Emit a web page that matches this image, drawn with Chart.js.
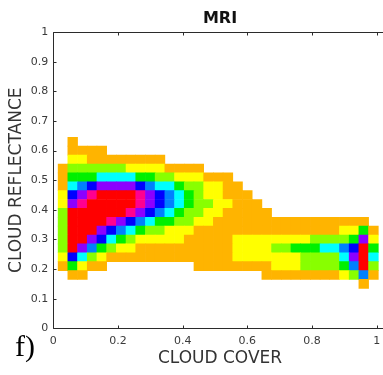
<!DOCTYPE html>
<html>
<head>
<meta charset="utf-8">
<script src="https://cdn.jsdelivr.net/npm/chart.js@4/dist/chart.umd.min.js"></script>
<style>
  html, body { margin: 0; padding: 0; background: #fff; overflow: hidden; }
  canvas { display: block; }
</style>
</head>
<body>
<!-- the axes box runs slightly past the right edge of the window -->
<canvas id="c" width="387" height="375"></canvas>
<script>
// Cloud cover bin centres (x) and cloud reflectance bin centres (y, top row first)
const coverBins = [0.03,0.06,0.09,0.12,0.15,0.18,0.21,0.24,0.27,0.30,
                   0.33,0.36,0.39,0.42,0.45,0.48,0.51,0.54,0.57,0.60,
                   0.63,0.66,0.69,0.72,0.75,0.78,0.81,0.84,0.87,0.90,
                   0.93,0.96,0.99];
const reflBins = [0.63,0.60,0.57,0.54,0.51,0.48,0.45,0.42,0.39,0.36,0.33,0.30,0.27,0.24,0.21,0.18,0.15];

// Joint-histogram frequency level per bin (0 = empty), one row per reflectance bin
const r063 = [0,1,0,0,0,0,0,0,0,0, 0,0,0,0,0,0,0,0,0,0, 0,0,0,0,0,0,0,0,0,0, 0,0,0];
const r060 = [0,1,1,1,1,0,0,0,0,0, 0,0,0,0,0,0,0,0,0,0, 0,0,0,0,0,0,0,0,0,0, 0,0,0];
const r057 = [0,2,2,1,1,1,1,1,1,1, 1,0,0,0,0,0,0,0,0,0, 0,0,0,0,0,0,0,0,0,0, 0,0,0];
const r054 = [1,3,3,3,3,3,3,2,2,2, 2,1,1,1,1,0,0,0,0,0, 0,0,0,0,0,0,0,0,0,0, 0,0,0];
const r051 = [1,4,4,4,5,5,5,5,4,4, 3,3,2,2,2,1,1,1,0,0, 0,0,0,0,0,0,0,0,0,0, 0,0,0];
const r048 = [1,5,6,7,8,8,8,8,7,6, 5,5,4,3,3,2,2,1,1,0, 0,0,0,0,0,0,0,0,0,0, 0,0,0];
const r045 = [2,7,8,9,10,10,10,10,9,8, 7,6,5,4,3,2,2,1,1,1, 0,0,0,0,0,0,0,0,0,0, 0,0,0];
const r042 = [2,8,9,10,10,10,10,10,9,8, 7,6,5,4,3,3,2,2,1,1, 1,0,0,0,0,0,0,0,0,0, 0,0,0];
const r039 = [3,10,10,10,10,10,10,9,8,7, 6,5,4,3,3,2,2,1,1,1, 1,1,0,0,0,0,0,0,0,0, 0,0,0];
const r036 = [3,10,10,10,10,9,8,7,6,5, 4,4,3,3,2,2,1,1,1,1, 1,1,1,1,1,1,1,1,1,1, 1,1,0];
const r033 = [3,10,10,10,8,7,6,5,4,3, 3,2,2,2,1,1,1,1,1,1, 1,1,1,1,1,1,1,1,1,2, 2,4,1];
const r030 = [3,10,10,8,7,5,4,3,2,2, 2,2,2,1,1,1,1,1,2,2, 2,2,2,2,2,2,3,3,3,3, 4,8,2];
const r027 = [3,10,8,6,4,3,2,2,1,1, 1,1,1,1,1,1,1,1,2,2, 2,2,3,3,4,4,4,5,5,6, 7,10,4];
const r024 = [2,7,5,3,2,1,1,1,1,1, 1,1,1,1,1,1,1,1,2,2, 2,2,2,2,2,3,3,3,3,5, 8,10,5];
const r021 = [1,4,2,1,1,0,0,0,0,0, 0,0,0,0,1,1,1,1,1,1, 1,1,2,2,2,3,3,3,3,4, 6,10,3];
const r018 = [0,1,1,0,0,0,0,0,0,0, 0,0,0,0,0,0,0,0,0,0, 0,1,1,1,1,1,1,1,1,2, 3,6,1];
const r015 = [0,0,0,0,0,0,0,0,0,0, 0,0,0,0,0,0,0,0,0,0, 0,0,0,0,0,0,0,0,0,0, 0,1,0];
const histRows = [r063,r060,r057,r054,r051,r048,r045,r042,r039,r036,r033,r030,r027,r024,r021,r018,r015];

// Colour for each frequency level 1..10
const levelColors = ['#FFB400','#FFFF00','#88FF00','#00F000','#00FFFF',
                     '#0080FF','#0000FF','#8C00FF','#FF0090','#FF0000'];

// Axis ticks
const xTickValues = [0, 0.2, 0.4, 0.6, 0.8, 1];
const xTickLabels = ['0', '0.2', '0.4', '0.6', '0.8', '1'];
const yTickValues = [0, 0.1, 0.2, 0.3, 0.4, 0.5, 0.6, 0.7, 0.8, 0.9, 1];
const yTickLabels = ['0', '0.1', '0.2', '0.3', '0.4', '0.5', '0.6', '0.7', '0.8', '0.9', '1'];

const binHalf = 0.015;   // half height of a reflectance bin
const FONT = 'DejaVu Sans';
const AXIS = '#2b2b2b';

// One floating bar per non-empty bin
const cells = [];
histRows.forEach((row, i) => {
  row.forEach((lvl, k) => {
    if (lvl > 0) {
      cells.push({ x: coverBins[k], y: [reflBins[i] - binHalf, reflBins[i] + binHalf], v: lvl });
    }
  });
});

// Axes box, inward tick marks and panel letter
const framePlugin = {
  id: 'frame',
  afterDatasetsDraw(chart) {
    const { ctx, chartArea: a, scales: { x, y } } = chart;
    const L = Math.round(a.left) + 0.5, R = Math.round(a.right) + 0.5;
    const T = Math.round(a.top) + 0.5, B = Math.round(a.bottom) + 0.5;
    ctx.save();
    ctx.strokeStyle = AXIS;
    ctx.lineWidth = 1;
    ctx.beginPath();
    ctx.moveTo(L, T); ctx.lineTo(R, T); ctx.lineTo(R, B); ctx.lineTo(L, B); ctx.closePath();
    xTickValues.forEach(v => {
      const px = Math.round(x.getPixelForValue(v)) + 0.5;
      ctx.moveTo(px, B); ctx.lineTo(px, B - 3);
      ctx.moveTo(px, T); ctx.lineTo(px, T + 3);
    });
    yTickValues.forEach(v => {
      const py = Math.round(y.getPixelForValue(v)) + 0.5;
      ctx.moveTo(L, py); ctx.lineTo(L + 3, py);
      ctx.moveTo(R, py); ctx.lineTo(R - 3, py);
    });
    ctx.stroke();
    ctx.restore();
  },
  afterDraw(chart) {
    const ctx = chart.ctx;
    ctx.save();
    ctx.fillStyle = '#000';
    ctx.font = '30px "Liberation Serif"';
    ctx.textBaseline = 'alphabetic';
    ctx.textAlign = 'left';
    ctx.fillText('f)', 15, 356);
    ctx.restore();
  }
};

Chart.defaults.font.family = FONT;

new Chart(document.getElementById('c'), {
  type: 'bar',
  data: {
    datasets: [{
      data: cells,
      backgroundColor: ctx => levelColors[ctx.raw.v - 1],
      borderWidth: 0,
      barPercentage: 1,
      categoryPercentage: 1,
      grouped: false
    }]
  },
  options: {
    responsive: false,
    animation: false,
    devicePixelRatio: 1,
    events: [],
    layout: { padding: { left: 0, right: 0.3, top: 0, bottom: 0 } },
    plugins: {
      legend: { display: false },
      tooltip: { enabled: false },
      title: {
        display: true,
        text: 'MRI',
        fullSize: false,
        color: '#111',
        font: { family: FONT, size: 16, weight: 'bold' },
        padding: { top: 9, bottom: 4 }
      }
    },
    scales: {
      x: {
        type: 'linear',
        min: 0,
        max: 1.031,
        offset: false,
        grid: { display: false, drawTicks: false },
        border: { display: false },
        afterFit: s => { s.height = 46.7; },
        afterBuildTicks: s => { s.ticks = xTickValues.map(v => ({ value: v })); },
        ticks: {
          padding: 6.5,
          color: '#3a3a3a',
          font: { family: FONT, size: 11 },
          maxRotation: 0,
          autoSkip: false,
          callback: (v, i) => xTickLabels[i]
        },
        title: {
          display: true,
          text: 'CLOUD COVER',
          color: '#333',
          font: { family: FONT, size: 17 },
          padding: { top: 0, bottom: 6 }
        }
      },
      y: {
        type: 'linear',
        min: 0,
        max: 1,
        grid: { display: false, drawTicks: false },
        border: { display: false },
        afterFit: s => { s.width = 53.3; },
        afterBuildTicks: s => { s.ticks = yTickValues.map(v => ({ value: v })); },
        ticks: {
          padding: 5,
          color: '#3a3a3a',
          font: { family: FONT, size: 11 },
          autoSkip: false,
          callback: (v, i) => yTickLabels[i]
        },
        title: {
          display: true,
          text: 'CLOUD REFLECTANCE',
          color: '#333',
          font: { family: FONT, size: 17 },
          padding: { top: 6, bottom: 0 }
        }
      }
    }
  },
  plugins: [framePlugin]
});
</script>
</body>
</html>
